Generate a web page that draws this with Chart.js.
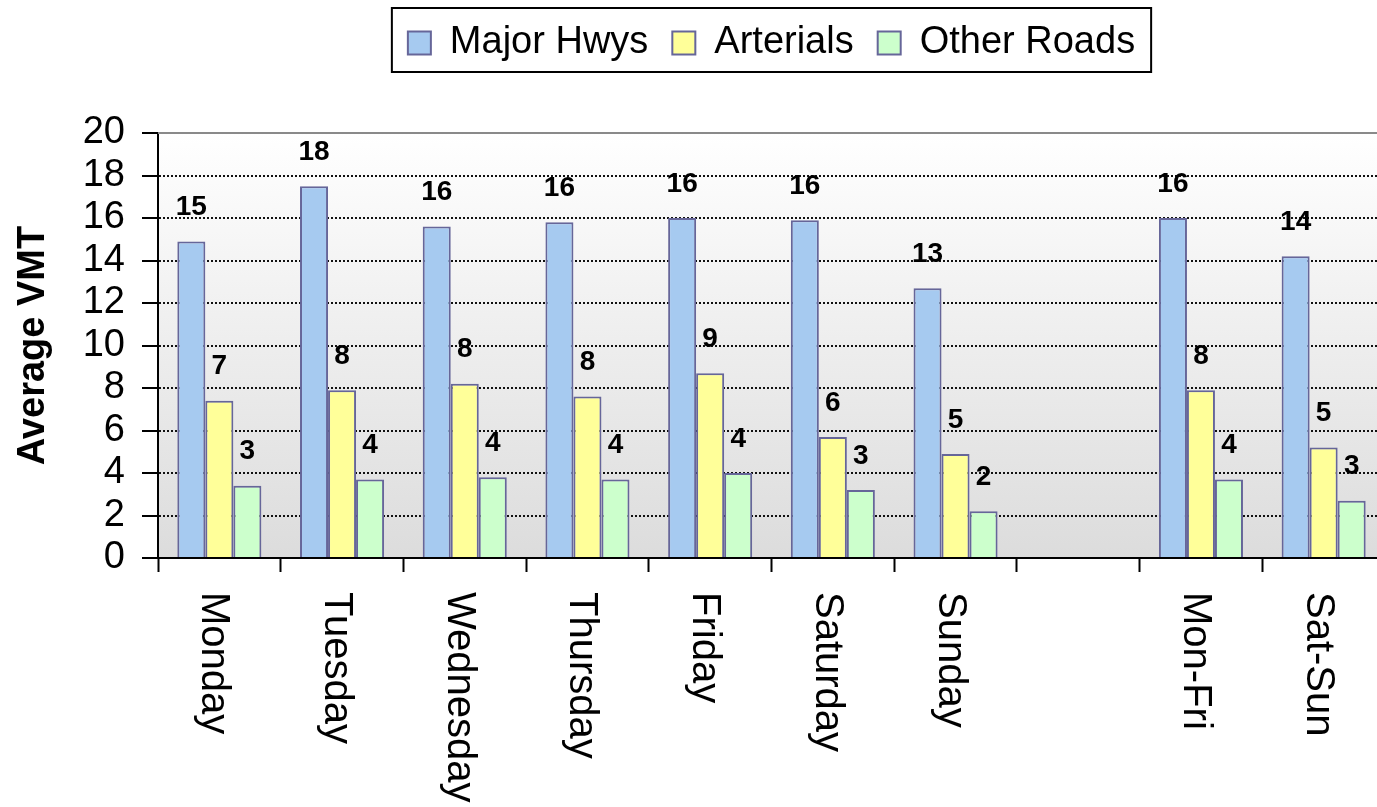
<!DOCTYPE html>
<html>
<head>
<meta charset="utf-8">
<title>Average VMT by Day</title>
<script src="https://cdn.jsdelivr.net/npm/chart.js@4.4.1/dist/chart.umd.min.js"></script>
<style>
  html, body { margin: 0; padding: 0; background: #ffffff; overflow: hidden; }
  #wrap { width: 1377px; height: 807px; overflow: hidden; position: relative; }
  canvas { display: block; }
</style>
</head>
<body>
<div id="wrap"><canvas id="vmt" width="1390" height="807"></canvas></div>
<script>
// Average vehicle miles travelled, by day of week and road class
const categories = ['Monday', 'Tuesday', 'Wednesday', 'Thursday', 'Friday', 'Saturday', 'Sunday', '', 'Mon-Fri', 'Sat-Sun'];
const majorHwys  = [14.9, 17.5, 15.6, 15.8, 16.0, 15.9, 12.7, null, 16.0, 14.2];
const arterials  = [7.4, 7.9, 8.2, 7.6, 8.7, 5.7, 4.9, null, 7.9, 5.2];
const otherRoads = [3.4, 3.7, 3.8, 3.7, 4.0, 3.2, 2.2, null, 3.7, 2.7];
const seriesNames = ['Major Hwys', 'Arterials', 'Other Roads'];
const yMin = 0, yMax = 20, yStep = 2;
const yTitle = 'Average VMT';

const FONT = "'Liberation Sans', Arial, Helvetica, sans-serif";
Chart.defaults.font.family = FONT;
Chart.defaults.color = '#000';

// extra room between the legend and the plot
const legendSpacer = {
  id: 'legendSpacer',
  beforeInit(chart) {
    const fit = chart.legend.fit;
    chart.legend.fit = function () {
      fit.call(this);
      this.height += 61;
    };
  }
};

// soft vertical gradient behind the plot
const plotBackground = {
  id: 'plotBackground',
  beforeDraw(chart) {
    const { ctx, chartArea: a } = chart;
    const g = ctx.createLinearGradient(0, a.top, 0, a.bottom);
    g.addColorStop(0, '#ffffff');
    g.addColorStop(1, '#dcdcdc');
    ctx.save();
    ctx.fillStyle = g;
    ctx.fillRect(a.left, a.top, a.right - a.left, a.bottom - a.top);
    ctx.restore();
  }
};

// grey frame line along the top of the plot
const plotFrame = {
  id: 'plotFrame',
  beforeDatasetsDraw(chart) {
    const { ctx, chartArea: a } = chart;
    ctx.save();
    ctx.strokeStyle = '#8a8a8a';
    ctx.lineWidth = 2;
    ctx.beginPath();
    ctx.moveTo(a.left, a.top);
    ctx.lineTo(a.right, a.top);
    ctx.stroke();
    ctx.restore();
  }
};

// rounded value above every bar
const valueLabels = {
  id: 'valueLabels',
  afterDatasetsDraw(chart) {
    const { ctx } = chart;
    ctx.save();
    ctx.font = 'bold 28px ' + FONT;
    ctx.fillStyle = '#000';
    ctx.textAlign = 'center';
    ctx.textBaseline = 'middle';
    chart.data.datasets.forEach((ds, di) => {
      const meta = chart.getDatasetMeta(di);
      meta.data.forEach((bar, i) => {
        const v = ds.data[i];
        if (v === null || v === undefined) return;
        ctx.fillText(String(Math.round(v)), bar.x, bar.y - 34);
      });
    });
    ctx.restore();
  }
};

// category names, turned to read downward
const dayLabels = {
  id: 'dayLabels',
  afterDraw(chart) {
    const { ctx } = chart;
    const xs = chart.scales.x;
    ctx.save();
    ctx.font = '40px ' + FONT;
    ctx.fillStyle = '#000';
    ctx.textAlign = 'left';
    ctx.textBaseline = 'middle';
    categories.forEach((name, i) => {
      if (!name) return;
      const x = xs.getPixelForValue(i) - 6;
      const y = xs.top + 34;
      ctx.save();
      ctx.translate(x, y);
      ctx.rotate(Math.PI / 2);
      ctx.fillText(name, 0, 0);
      ctx.restore();
    });
    ctx.restore();
  }
};

// black frame round the legend
const legendFrame = {
  id: 'legendFrame',
  afterDraw(chart) {
    const hb = chart.legend && chart.legend.legendHitBoxes;
    if (!hb || !hb.length) return;
    const first = hb[0], last = hb[hb.length - 1];
    const x0 = first.left - 16;
    const x1 = last.left + last.width + 16;
    const y0 = first.top - 16;
    const y1 = first.top + first.height + 10;
    const { ctx } = chart;
    ctx.save();
    ctx.strokeStyle = '#000';
    ctx.lineWidth = 2;
    ctx.strokeRect(x0, y0, x1 - x0, y1 - y0);
    ctx.restore();
  }
};

const barBorder = '#666699';
new Chart(document.getElementById('vmt'), {
  type: 'bar',
  data: {
    labels: categories,
    datasets: [
      { label: seriesNames[0], data: majorHwys,  backgroundColor: '#A6CAF0', borderColor: barBorder, borderWidth: 2 },
      { label: seriesNames[1], data: arterials,  backgroundColor: '#FFFF99', borderColor: barBorder, borderWidth: 2 },
      { label: seriesNames[2], data: otherRoads, backgroundColor: '#CCFFCC', borderColor: barBorder, borderWidth: 2 }
    ]
  },
  options: {
    responsive: false,
    animation: false,
    events: [],
    datasets: { bar: { categoryPercentage: 0.685, barPercentage: 1.0 } },
    layout: { padding: { left: 0, right: 5, top: 0, bottom: 0 } },
    plugins: {
      tooltip: { enabled: false },
      legend: {
        position: 'top',
        fullSize: false,
        labels: { boxWidth: 23, boxHeight: 23, padding: 24, color: '#000', font: { size: 38 } }
      }
    },
    scales: {
      x: {
        grid: { offset: true, drawOnChartArea: false, drawTicks: true, tickLength: 14, tickColor: '#000', tickWidth: 2 },
        border: { display: true, color: '#000', width: 2 },
        ticks: { display: false },
        afterFit(scale) { scale.height = 249; }
      },
      y: {
        min: yMin,
        max: yMax,
        ticks: { stepSize: yStep, autoSkip: false, padding: 17, color: '#000', font: { size: 38 } },
        grid: {
          color: c => (c.tick && c.tick.value === yMax) ? 'rgba(0,0,0,0)' : '#111111',
          lineWidth: 2,
          drawTicks: true,
          tickLength: 16,
          tickColor: '#000',
          tickWidth: 2,
          tickBorderDash: []
        },
        border: { display: true, color: '#000', width: 2, dash: [2, 2] },
        title: { display: true, text: yTitle, color: '#000', font: { size: 38, weight: 'bold' }, padding: { top: 11, bottom: 0 } },
        afterFit(scale) { scale.width = 158; }
      }
    }
  },
  plugins: [legendSpacer, plotBackground, plotFrame, valueLabels, dayLabels, legendFrame]
});
</script>
</body>
</html>
